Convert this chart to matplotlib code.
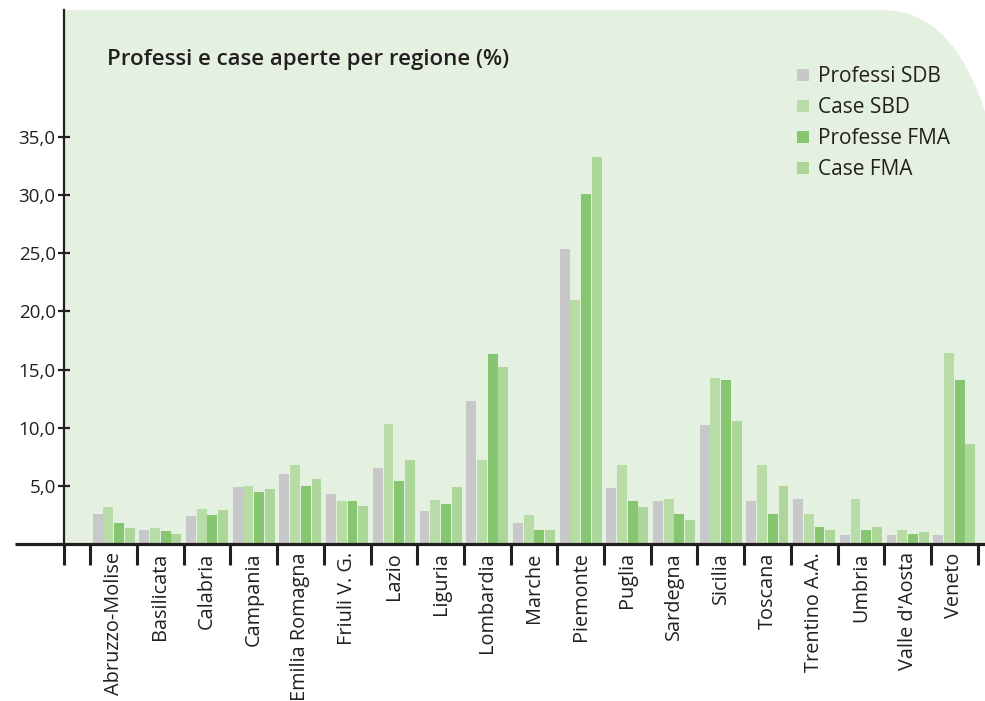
import numpy as np
import matplotlib
matplotlib.use("Agg")
import matplotlib.pyplot as plt
from matplotlib.path import Path
from matplotlib.patches import PathPatch

plt.rcParams['font.family'] = ['Open Sans', 'DejaVu Sans']

# data
regioni = ['Abruzzo-Molise', 'Basilicata', 'Calabria', 'Campania', 'Emilia Romagna',
           'Friuli V. G.', 'Lazio', 'Liguria', 'Lombardia', 'Marche', 'Piemonte',
           'Puglia', 'Sardegna', 'Sicilia', 'Toscana', 'Trentino A.A.', 'Umbria',
           "Valle d'Aosta", 'Veneto']
professi_sdb = [2.6, 1.2, 2.4, 4.9, 6.0, 4.3, 6.5, 2.8, 12.3, 1.8, 25.4,
                4.8, 3.7, 10.2, 3.7, 3.9, 0.8, 0.8, 0.8]
case_sbd = [3.2, 1.4, 3.0, 5.0, 6.8, 3.7, 10.3, 3.8, 7.2, 2.5, 21.0,
            6.8, 3.9, 14.3, 6.8, 2.6, 3.9, 1.2, 16.4]
professe_fma = [1.8, 1.1, 2.5, 4.5, 5.0, 3.7, 5.4, 3.4, 16.3, 1.2, 30.1,
                3.7, 2.6, 14.1, 2.6, 1.5, 1.2, 0.9, 14.1]
case_fma = [1.4, 0.9, 2.9, 4.7, 5.6, 3.3, 7.2, 4.9, 15.2, 1.2, 33.3,
            3.2, 2.1, 10.6, 5.0, 1.2, 1.5, 1.0, 8.6]

serie = [('Professi SDB', professi_sdb, '#C8C8CA'),
         ('Case SBD', case_sbd, '#B7DCA6'),
         ('Professe FMA', professe_fma, '#86C670'),
         ('Case FMA', case_fma, '#ADD79A')]

testo = '#231F20'
W, H = 985, 701
fig = plt.figure(figsize=(W / 100, H / 100), dpi=100)

# green panel with rounded top-right corner (pixel coords -> figure fraction)
def fx(px):
    return px / W

def fy(py):
    return 1 - py / H

verts = [(fx(64), fy(544)), (fx(64), fy(10)), (fx(882), fy(10)),
         (fx(940), fy(10)), (fx(978), fy(60)), (fx(1000), fy(170)),
         (fx(1000), fy(544)), (fx(64), fy(544))]
codes = [Path.MOVETO, Path.LINETO, Path.LINETO,
         Path.CURVE4, Path.CURVE4, Path.CURVE4,
         Path.LINETO, Path.CLOSEPOLY]
fig.add_artist(PathPatch(Path(verts, codes), transform=fig.transFigure,
                         facecolor='#E4F0E0', edgecolor='none', zorder=0))

ax = fig.add_axes([fx(64), fy(544), fx(985) - fx(64), fy(10) - fy(544)])
ax.patch.set_alpha(0)

x = np.arange(len(regioni))
step = 0.229
for i, (nome, vals, col) in enumerate(serie):
    ax.bar(x + (i - 1.5) * step, vals, width=0.212, color=col, label=nome, zorder=2)

ymax = (544 - 10) / ((544 - 137) / 35.0)
ax.set_ylim(0, ymax)
xl = (64 - 113.65) / 46.7
xr = (985 - 113.65) / 46.7
ax.set_xlim(xl, xr)

for s in ['top', 'right']:
    ax.spines[s].set_visible(False)
ax.spines['left'].set_linewidth(1.6)
ax.spines['left'].set_color(testo)
ax.spines['bottom'].set_visible(False)
# baseline extends left of the y axis
ax.plot([-(64 - 15) / (985 - 64), 1], [0, 0], transform=ax.transAxes,
        color=testo, lw=2.3, clip_on=False, zorder=3, solid_capstyle='butt')

ax.set_yticks([5, 10, 15, 20, 25, 30, 35])
ax.set_yticklabels(['5,0', '10,0', '15,0', '20,0', '25,0', '30,0', '35,0'],
                   fontsize=13.5, color=testo)
ax.tick_params(axis='y', direction='inout', length=8, width=1.6, color=testo, pad=2)

ax.set_xticks([xl] + list(np.arange(len(regioni) + 1) - 0.5))
ax.set_xticklabels([])
ax.tick_params(axis='x', which='major', direction='out', length=15, width=2.2, color=testo)
ax.set_xticks(x, minor=True)
ax.set_xticklabels(regioni, minor=True, rotation=90, fontsize=14.3, color=testo,
                   ha='center', va='top')
ax.tick_params(axis='x', which='minor', length=0, pad=6)

fig.text(fx(107), fy(60), 'Professi e case aperte per regione (%)', fontsize=16,
         fontweight='semibold', color=testo, ha='left', va='center')

ax.legend(loc='upper left', bbox_to_anchor=(fx(787), fy(56)),
          bbox_transform=fig.transFigure, frameon=False, fontsize=15,
          handlelength=0.55, handleheight=0.55, handletextpad=0.45,
          labelspacing=0.48, borderpad=0, labelcolor=testo)

fig.savefig('out.png', dpi=100)
